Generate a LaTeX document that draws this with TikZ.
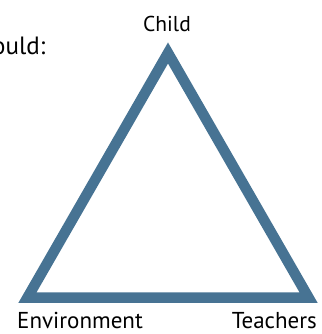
\documentclass[tikz,border=0pt]{standalone}
\usepackage{fontspec}
\setmainfont{PT Sans}
\definecolor{tri}{RGB}{71,115,147}
\begin{document}
\begin{tikzpicture}[x=1pt,y=-1pt,
  lbl/.style={inner sep=0pt,font=\fontsize{23}{26}\selectfont,text=black},
  big/.style={inner sep=0pt,font=\fontsize{25}{30}\selectfont,text=black}]
\useasboundingbox (0,0) rectangle (321,334);
\coordinate (apex) at (168,53);
\coordinate (bl) at (27.5,297.5);
\coordinate (br) at (308.5,297.5);
\draw[tri,line width=10.5pt,line join=miter] (apex) -- (bl) -- (br) -- cycle;
\node[lbl,font=\fontsize{21.5}{24}\selectfont,anchor=base] (child) at (167,32) {Child};
\node[lbl,anchor=base west] (env) at (17,328.5) {Environment};
\node[lbl,anchor=base east] (teach) at (317,328.5) {Teachers};
\node[big,anchor=base east] (should) at (45.5,55) {ould:};
\end{tikzpicture}
\end{document}
